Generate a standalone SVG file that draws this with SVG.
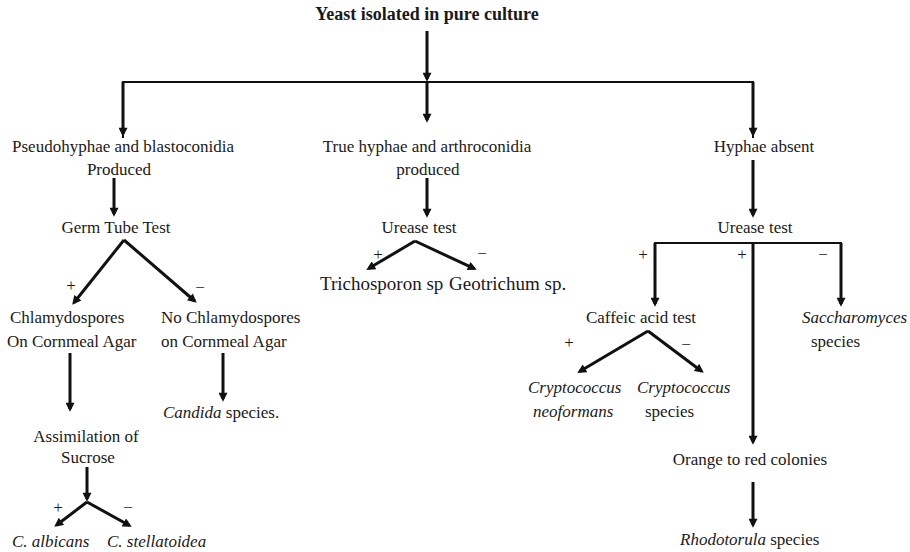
<svg xmlns="http://www.w3.org/2000/svg" width="910" height="552" viewBox="0 0 910 552">
<style>
text{font-family:"Liberation Serif","Times New Roman",serif;font-size:17px;fill:#1a1a1a}
.b{font-weight:bold;font-size:18px}
.i{font-style:italic}
.m{text-anchor:middle}
.big{font-size:19px}
.s{font-size:17px;text-anchor:middle}
.a{stroke:#111;stroke-width:3;fill:none;marker-end:url(#ah)}
.h{stroke:#111;stroke-width:2;fill:none}
</style>
<defs>
<marker id="ah" viewBox="0 0 10 10" refX="7" refY="5" markerWidth="10" markerHeight="9" markerUnits="userSpaceOnUse" orient="auto">
<path d="M0,0 L10,5 L0,10 z" fill="#111"/>
</marker>
</defs>
<g id="connectors">
<line class="a" x1="427" y1="31" x2="427" y2="79"/>
<polyline class="h" points="123,138 123,82 753,82 753,138"/>
<line class="a" x1="123" y1="82" x2="123" y2="134"/>
<line class="a" x1="427" y1="82" x2="427" y2="120"/>
<line class="a" x1="753" y1="82" x2="753" y2="134"/>
<line class="a" x1="114" y1="178" x2="114" y2="214"/>
<line class="a" x1="124" y1="240" x2="73.9" y2="302.7"/>
<line class="a" x1="124" y1="240" x2="194.7" y2="301"/>
<line class="a" x1="70" y1="353" x2="70" y2="409"/>
<line class="a" x1="223" y1="353" x2="223" y2="399"/>
<line class="a" x1="87" y1="467" x2="87" y2="499"/>
<line class="a" x1="87" y1="502" x2="56.4" y2="525.2"/>
<line class="a" x1="87" y1="502" x2="129.4" y2="525.5"/>
<line class="a" x1="427" y1="178" x2="427" y2="215"/>
<line class="a" x1="415" y1="241" x2="368.6" y2="268.5"/>
<line class="a" x1="415" y1="241" x2="474.3" y2="268.7"/>
<line class="a" x1="753" y1="160" x2="753" y2="215"/>
<polyline class="h" points="655,250 655,243 841,243 841,250"/>
<line class="a" x1="655" y1="243" x2="655" y2="304"/>
<line class="a" x1="753" y1="243" x2="753" y2="442"/>
<line class="a" x1="841" y1="243" x2="841" y2="304"/>
<line class="a" x1="648" y1="331" x2="579.6" y2="371.5"/>
<line class="a" x1="648" y1="331" x2="701.6" y2="371.2"/>
<line class="a" x1="753" y1="482" x2="753" y2="525"/>
</g>
<g id="signs">
<text class="s" x="71" y="291">+</text>
<text class="s" x="200" y="293">−</text>
<text class="s" x="378" y="260">+</text>
<text class="s" x="482" y="259">−</text>
<text class="s" x="643" y="260">+</text>
<text class="s" x="742" y="260">+</text>
<text class="s" x="823" y="260">−</text>
<text class="s" x="569" y="348">+</text>
<text class="s" x="686" y="350">−</text>
<text class="s" x="58" y="513">+</text>
<text class="s" x="128" y="513">−</text>
</g>
<g id="n-root"><text class="b m" x="427" y="20">Yeast isolated in pure culture</text></g>
<g id="n-pseudo"><text class="m" x="123" y="152">Pseudohyphae and blastoconidia</text><text class="m" x="119" y="175">Produced</text></g>
<g id="n-true"><text class="m" x="427" y="152">True hyphae and arthroconidia</text><text class="m" x="428" y="175">produced</text></g>
<g id="n-absent"><text class="m" x="764" y="152">Hyphae absent</text></g>
<g id="n-germ"><text class="m" x="116" y="233">Germ Tube Test</text></g>
<g id="n-urease1"><text class="m" x="419" y="233">Urease test</text></g>
<g id="n-tricho"><text class="big" x="320" y="290">Trichosporon sp</text></g>
<g id="n-geo"><text class="big" x="449" y="290">Geotrichum sp.</text></g>
<g id="n-chlamy"><text x="10" y="323">Chlamydospores</text><text x="7" y="347">On Cornmeal Agar</text></g>
<g id="n-nochlamy"><text x="161" y="323">No Chlamydospores</text><text x="161" y="347">on Cornmeal Agar</text></g>
<g id="n-candida"><text x="163" y="418"><tspan class="i">Candida</tspan> species.</text></g>
<g id="n-assim"><text class="m" x="86" y="442">Assimilation of</text><text class="m" x="88" y="463">Sucrose</text></g>
<g id="n-albicans"><text class="i" x="12" y="547">C. albicans</text></g>
<g id="n-stellat"><text class="i" x="107" y="547">C. stellatoidea</text></g>
<g id="n-urease2"><text class="m" x="755" y="233">Urease test</text></g>
<g id="n-caffeic"><text class="m" x="641" y="323">Caffeic acid test</text></g>
<g id="n-sacch"><text class="i" x="802" y="323">Saccharomyces</text><text x="811" y="347">species</text></g>
<g id="n-neo"><text class="i" x="528" y="393">Cryptococcus</text><text class="i" x="533" y="417">neoformans</text></g>
<g id="n-crypto"><text class="i" x="637" y="393">Cryptococcus</text><text x="645" y="417">species</text></g>
<g id="n-orange"><text class="m" x="750" y="465">Orange to red colonies</text></g>
<g id="n-rhodo"><text x="680" y="545"><tspan class="i">Rhodotorula</tspan> species</text></g>
</svg>
